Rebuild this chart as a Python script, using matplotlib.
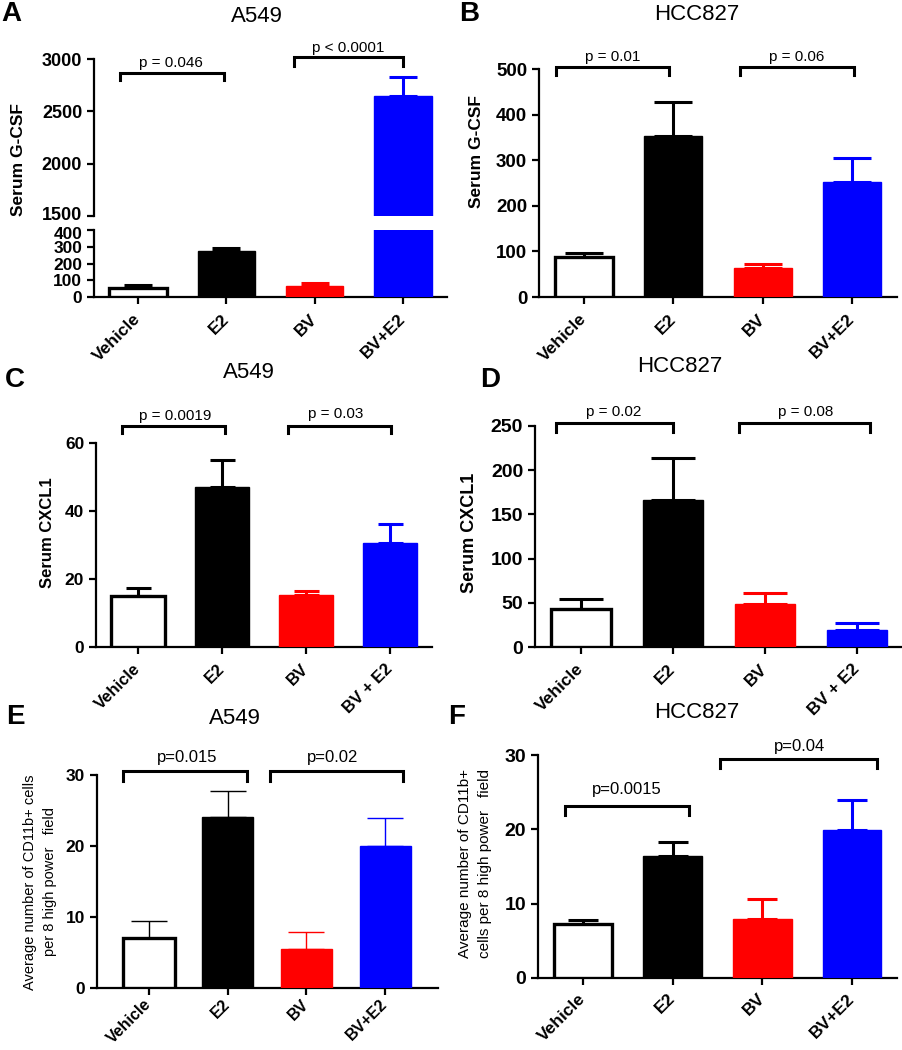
import numpy as np
import matplotlib.pyplot as plt
from matplotlib.transforms import ScaledTranslation

plt.rcParams['font.family'] = ['Liberation Sans', 'DejaVu Sans']

W, H = 903, 1050

groups = ['Vehicle', 'E2', 'BV', 'BV+E2']
groups_sp = ['Vehicle', 'E2', 'BV', 'BV + E2']
bar_colors = ['white', 'black', 'red', 'blue']
edge_colors = ['black', 'black', 'red', 'blue']

# A: A549 serum G-CSF
gcsf_a549 = [56, 276, 66, 2642]
gcsf_a549_err = [14, 14, 20, 182]
# B: HCC827 serum G-CSF
gcsf_hcc = [87, 352, 63, 253]
gcsf_hcc_err = [10.5, 75, 10, 51]
# C: A549 serum CXCL1
cxcl1_a549 = [15.1, 47.2, 15.2, 30.6]
cxcl1_a549_err = [2.3, 7.9, 1.3, 5.6]
# D: HCC827 serum CXCL1
cxcl1_hcc = [43.4, 166, 49, 19.6]
cxcl1_hcc_err = [10.6, 48, 12.5, 7.6]
# E: A549 CD11b+ cells
cd11b_a549 = [7.1, 24.05, 5.5, 20.0]
cd11b_a549_err = [2.4, 3.7, 2.4, 3.96]
# F: HCC827 CD11b+ cells
cd11b_hcc = [7.3, 16.4, 7.95, 19.9]
cd11b_hcc_err = [0.5, 1.9, 2.65, 4.0]

pvals_a = ['p = 0.046', 'p < 0.0001']
pvals_b = ['p = 0.01', 'p = 0.06']
pvals_c = ['p = 0.0019', 'p = 0.03']
pvals_d = ['p = 0.02', 'p = 0.08']
pvals_e = ['p=0.015', 'p=0.02']
pvals_f = ['p=0.0015', 'p=0.04']


def box(x0, x1, ytop, ybot):
    return [x0 / W, 1 - ybot / H, (x1 - x0) / W, (ybot - ytop) / H]


def ftext(x, y, s, **kw):
    fig.text(x / W, 1 - y / H, s, **kw)


def bars(ax, vals, errs, lw_err=2.2, cap=10):
    x = np.arange(len(vals))
    ax.bar(x, vals, width=0.65, color=bar_colors, edgecolor=edge_colors,
           linewidth=[2.4, 1, 1, 1], zorder=3)
    for xi, v, e, c in zip(x, vals, errs, edge_colors):
        ax.errorbar(xi, v, yerr=[[0], [e]], fmt='none', ecolor=c, capsize=cap,
                    elinewidth=lw_err, capthick=lw_err, zorder=2)


def style(ax, ylim, yticks, ysize, labels=None, xsize=12.5, xlim=(-0.5, 3.5), pad=9):
    ax.spines[['top', 'right']].set_visible(False)
    ax.spines[['left', 'bottom']].set_linewidth(1.6)
    ax.set_xlim(*xlim)
    ax.set_ylim(*ylim)
    ax.set_yticks(yticks)
    ax.set_yticklabels([str(t) for t in yticks], fontweight='bold', fontsize=ysize)
    ax.tick_params(width=1.6, length=5)
    ax.set_xticks(range(4))
    if labels is None:
        ax.set_xticklabels([])
    else:
        ax.set_xticklabels(labels, rotation=45, ha='right', va='center',
                           rotation_mode='anchor', fontweight='bold', fontsize=xsize)
        ax.tick_params(axis='x', pad=pad)


def bracket(ax, x0, x1, ytop, yleg, text, tx, ty, fs=11):
    ax.plot([x0, x0, x1, x1], [yleg, ytop, ytop, yleg], color='black', lw=2.2,
            clip_on=False, solid_joinstyle='miter')
    ax.text(tx, ty, text, ha='center', va='center', fontsize=fs)


fig = plt.figure(figsize=(W / 100, H / 100), dpi=100)

# ---- A (broken axis)
axa_top = fig.add_axes(box(94, 447, 59, 216))
axa_bot = fig.add_axes(box(94, 447, 230, 297))
for ax in (axa_top, axa_bot):
    bars(ax, gcsf_a549, gcsf_a549_err, cap=10)
style(axa_top, (1500, 3000), [1500, 2000, 2500, 3000], 13)
axa_top.spines['bottom'].set_visible(False)
axa_top.tick_params(axis='x', length=0)
style(axa_bot, (0, 400), [0, 100, 200, 300, 400], 12.5, groups)
# nudge the two labels at the break apart a little
axa_top.get_yticklabels()[0].set_transform(
    axa_top.get_yticklabels()[0].get_transform() + ScaledTranslation(0, 2 / 72, fig.dpi_scale_trans))
axa_bot.get_yticklabels()[-1].set_transform(
    axa_bot.get_yticklabels()[-1].get_transform() + ScaledTranslation(0, -2 / 72, fig.dpi_scale_trans))
bracket(axa_top, -0.2, 0.97, 2866, 2802, pvals_a[0], 0.375, 2962)
bracket(axa_top, 1.77, 3.0, 3016, 2936, pvals_a[1], 2.375, 3105)
ftext(19, 160, 'Serum G-CSF', rotation=90, ha='center', va='center',
      fontweight='bold', fontsize=12.5)

# ---- B
axb = fig.add_axes(box(539, 897, 69, 297))
bars(axb, gcsf_hcc, gcsf_hcc_err, cap=14)
style(axb, (0, 500), [0, 100, 200, 300, 400, 500], 13.5, groups)
bracket(axb, -0.31, 0.95, 504, 486, pvals_b[0], 0.32, 526)
bracket(axb, 1.75, 3.02, 504, 486, pvals_b[1], 2.38, 526)
ftext(477, 152, 'Serum G-CSF', rotation=90, ha='center', va='center',
      fontweight='bold', fontsize=12.5)

# ---- C
axc = fig.add_axes(box(96, 432, 443, 647))
bars(axc, cxcl1_a549, cxcl1_a549_err, cap=9)
style(axc, (0, 60), [0, 20, 40, 60], 12.5, groups_sp, 12)
bracket(axc, -0.19, 1.04, 65.1, 62.9, pvals_c[0], 0.44, 67.9)
bracket(axc, 1.78, 3.01, 65.1, 62.9, pvals_c[1], 2.35, 68.5)
ftext(47, 533, 'Serum CXCL1', rotation=90, ha='center', va='center',
      fontweight='bold', fontsize=12)

# ---- D
axd = fig.add_axes(box(535, 903, 426, 647))
bars(axd, cxcl1_hcc, cxcl1_hcc_err, cap=16)
style(axd, (0, 250), [0, 50, 100, 150, 200, 250], 14, groups_sp, 12.5)
bracket(axd, -0.27, 1.0, 253, 243.6, pvals_d[0], 0.35, 266)
bracket(axd, 1.72, 3.14, 253, 243.6, pvals_d[1], 2.44, 266)
ftext(470, 533, 'Serum CXCL1', rotation=90, ha='center', va='center',
      fontweight='bold', fontsize=13)

# ---- E
axe = fig.add_axes(box(97, 438, 775, 988))
bars(axe, cd11b_a549, cd11b_a549_err, lw_err=1.0, cap=13)
style(axe, (0, 30), [0, 10, 20, 30], 12.5, groups, 11.5, xlim=(-0.66, 3.67), pad=5)
bracket(axe, -0.33, 1.25, 30.6, 29.1, pvals_e[0], 0.48, 32.4, fs=12)
bracket(axe, 1.54, 3.23, 30.6, 29.1, pvals_e[1], 2.33, 32.4, fs=12)
ftext(40, 882, 'Average number of CD11b+ cells\nper 8 high power   field',
      rotation=90, ha='center', va='center', fontsize=10.5, linespacing=1.5)

# ---- F
axf = fig.add_axes(box(538, 897, 755, 978))
bars(axf, cd11b_hcc, cd11b_hcc_err, cap=10.5)
style(axf, (0, 30), [0, 10, 20, 30], 14, groups, 12.5, pad=8)
bracket(axf, -0.2, 1.18, 23.2, 21.9, pvals_f[0], 0.49, 25.4, fs=12)
bracket(axf, 1.53, 3.28, 29.5, 28.2, pvals_f[1], 2.41, 31.1, fs=12)
ftext(475, 863, 'Average number of CD11b+\ncells per 8 high power   field',
      rotation=90, ha='center', va='center', fontsize=11, linespacing=1.5)

# ---- titles and panel letters
for x, y, s in [(257, 17, 'A549'), (697, 15, 'HCC827'), (249, 373, 'A549'),
                (680, 367, 'HCC827'), (235, 718, 'A549'), (697, 712, 'HCC827')]:
    ftext(x, y, s, ha='center', va='center', fontsize=16)
for x, y, s in [(11, 14, 'A'), (469, 14, 'B'), (15, 380, 'C'),
                (490, 380, 'D'), (15, 717, 'E'), (457, 717, 'F')]:
    ftext(x, y, s, ha='center', va='center', fontsize=20, fontweight='bold')

fig.savefig('out.png', dpi=100)
